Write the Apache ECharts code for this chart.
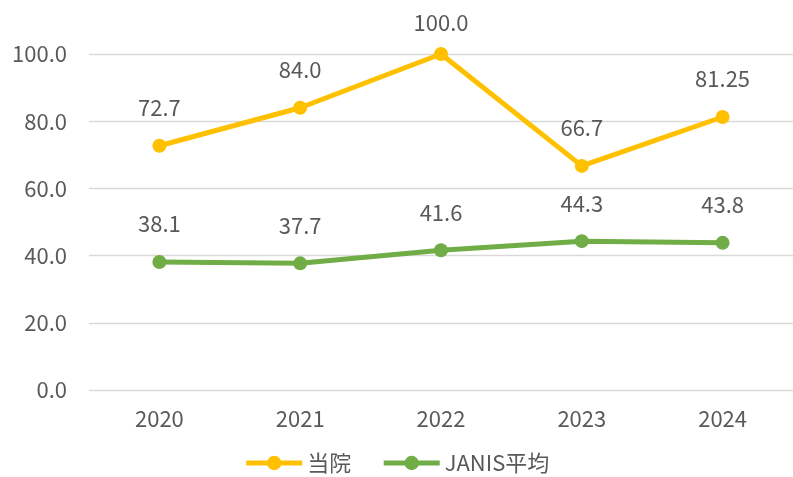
<!DOCTYPE html>
<html>
<head>
<meta charset="utf-8">
<script src="https://cdn.jsdelivr.net/npm/echarts@6/dist/echarts.min.js"></script>
<style>
  html, body { margin: 0; padding: 0; background: #fff; }
  #chart { width: 793px; height: 477px; }
</style>
</head>
<body>
<div id="chart"></div>
<script>
// データ
const years = ["2020", "2021", "2022", "2023", "2024"];
const hospital = [72.7, 84.0, 100.0, 66.7, 81.25];
const janis = [38.1, 37.7, 41.6, 44.3, 43.8];
const seriesNames = ["当院", "JANIS平均"];

const FONT = '"Noto Sans CJK JP", "Noto Sans", sans-serif';
const TEXT = "#595959";
const FS = 22;

// 小数1桁、それ以上はそのまま
function fmt(v) {
  return Math.abs(v * 10 - Math.round(v * 10)) < 1e-9 ? v.toFixed(1) : String(v);
}

const chart = echarts.init(document.getElementById("chart"));

const labelOpt = {
  show: true, position: "top", distance: 20,
  color: TEXT, fontSize: FS, fontFamily: FONT,
  formatter: (p) => fmt(p.value)
};

const option = {
  animation: false,
  textStyle: { fontFamily: FONT },
  grid: { left: 89, top: 54, width: 706, height: 336 },
  legend: {
    data: seriesNames,
    bottom: -2,
    left: "center",
    itemWidth: 56,
    itemHeight: 18,
    itemGap: 30,
    lineStyle: { width: 5 },
    textStyle: { color: TEXT, fontSize: FS, fontFamily: FONT }
  },
  xAxis: {
    type: "category",
    data: years,
    axisLine: { show: false },
    axisTick: { show: false },
    axisLabel: { color: TEXT, fontSize: FS, margin: 18, fontFamily: FONT }
  },
  yAxis: {
    type: "value",
    min: 0,
    max: 100,
    interval: 20,
    axisLine: { show: false },
    axisTick: { show: false },
    axisLabel: {
      color: TEXT, fontSize: FS, margin: 22, fontFamily: FONT,
      formatter: (v) => v.toFixed(1)
    },
    splitLine: { lineStyle: { color: "#d9d9d9", width: 1.3 } }
  },
  series: [
    {
      name: seriesNames[0],
      type: "line",
      data: hospital.map((v, i) => i === 2
        ? { value: v, label: { distance: 13 } }
        : v),
      color: "#FFC000",
      symbol: "circle",
      symbolSize: 14,
      lineStyle: { width: 5, color: "#FFC000" },
      label: labelOpt
    },
    {
      name: seriesNames[1],
      type: "line",
      data: janis,
      color: "#70AD47",
      symbol: "circle",
      symbolSize: 14,
      lineStyle: { width: 5, color: "#70AD47" },
      label: labelOpt
    }
  ]
};

chart.setOption(option);
</script>
</body>
</html>
